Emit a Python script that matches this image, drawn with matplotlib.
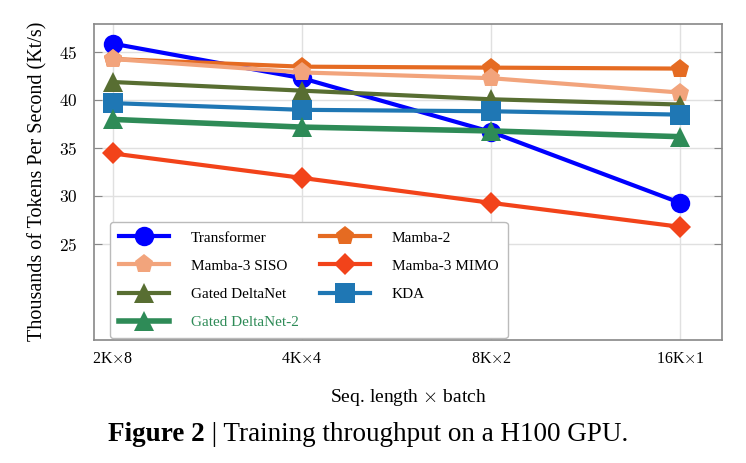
import matplotlib
matplotlib.use("Agg")
import matplotlib.pyplot as plt
import numpy as np

plt.rcParams['font.family'] = ['Liberation Serif', 'DejaVu Serif']
plt.rcParams['mathtext.fontset'] = 'cm'

x_labels = ['2K$\\times$8', '4K$\\times$4', '8K$\\times$2', '16K$\\times$1']
y_ticks = [25, 30, 35, 40, 45]

transformer = [45.9, 42.3, 36.7, 29.3]
mamba2 = [44.3, 43.5, 43.4, 43.3]
mamba3_siso = [44.3, 42.9, 42.3, 40.8]
mamba3_mimo = [34.45, 31.9, 29.3, 26.8]
gated_deltanet = [41.9, 41.0, 40.1, 39.55]
kda = [39.7, 39.0, 38.85, 38.5]
gated_deltanet2 = [38.0, 37.2, 36.8, 36.2]

x = np.arange(len(x_labels))

fig = plt.figure(figsize=(7.46, 4.63), dpi=100)
ax = fig.add_axes([0.126, 0.2657, 0.8415, 0.6835])

# name, values, color, marker, linewidth
series = [
    ('Transformer', transformer, '#0000ff', 'o', 3.0),
    ('Mamba-2', mamba2, '#e56b22', 'p', 3.0),
    ('Mamba-3 SISO', mamba3_siso, '#f2a47c', 'p', 3.0),
    ('Mamba-3 MIMO', mamba3_mimo, '#f2431a', 'D', 3.0),
    ('Gated DeltaNet', gated_deltanet, '#586e32', '^', 3.0),
    ('KDA', kda, '#1f77b4', 's', 3.0),
    ('Gated DeltaNet-2', gated_deltanet2, '#2e8b57', '^', 4.0),
]

handles = {}
for name, vals, c, m, lw in series:
    ms = 11 if m == 'D' else 14
    h, = ax.plot(x, vals, color=c, marker=m, lw=lw, markersize=ms,
                 markeredgewidth=0, label=name)
    handles[name] = h

ax.set_xlim(-0.1, 3.22)
ax.set_ylim(15, 48)
ax.set_xticks(x)
ax.set_xticklabels(x_labels, fontsize=11.5)
ax.set_yticks(y_ticks)
ax.set_yticklabels(['$%d$' % t for t in y_ticks], fontsize=12.5)
ax.tick_params(direction='in', length=0, pad=8, color='#888888')
ax.tick_params(axis='y', length=6, left=True, right=True, direction='in', pad=12)
ax.grid(True, color='#e0e0e0', lw=1.0)
ax.set_axisbelow(True)
for s in ax.spines.values():
    s.set_color('#888888')
    s.set_linewidth(1.2)

ax.set_ylabel('Thousands of Tokens Per Second (Kt/s)', fontsize=14.5, labelpad=8)
ax.set_xlabel('Seq. length $\\times$ batch', fontsize=14, labelpad=14)

order = ['Transformer', 'Mamba-3 SISO', 'Gated DeltaNet', 'Gated DeltaNet-2',
         'Mamba-2', 'Mamba-3 MIMO', 'KDA']
leg = ax.legend([handles[n] for n in order], order, ncol=2, loc='lower left',
                bbox_to_anchor=(0.025, 0.005), borderaxespad=0.0,
                fontsize=11, handlelength=3.3,
                handletextpad=1.4, columnspacing=1.4, labelspacing=0.95,
                borderpad=0.6, frameon=True, fancybox=True, framealpha=1)
leg.get_frame().set_edgecolor('#bbbbbb')
for t in leg.get_texts():
    if t.get_text() == 'Gated DeltaNet-2':
        t.set_color('#2e8b57')

fig.text(108 / 746, 0.062, 'Figure 2', fontsize=19.5, fontweight='bold',
         ha='left', va='center')
fig.text(205 / 746, 0.062, ' | Training throughput on a H100 GPU.', fontsize=19.5,
         ha='left', va='center')

fig.savefig('out.png', dpi=100)
